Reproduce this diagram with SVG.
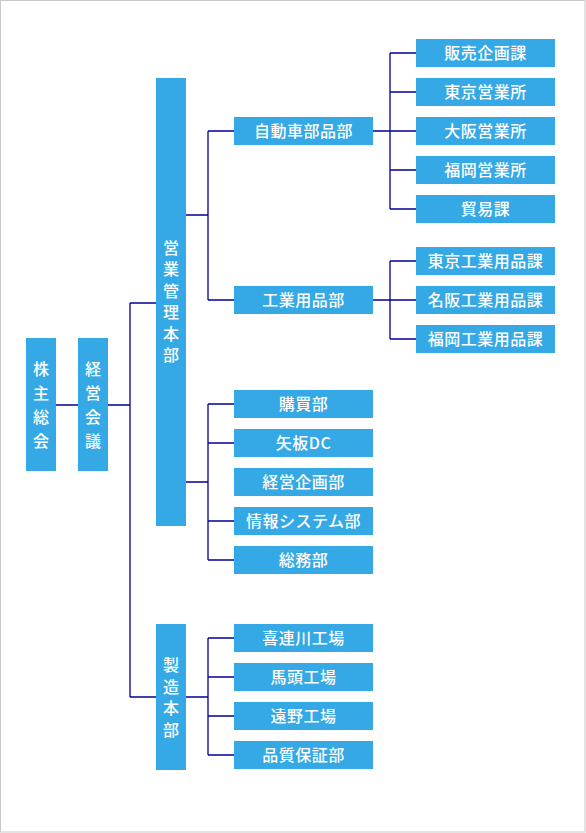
<svg xmlns="http://www.w3.org/2000/svg" width="586" height="833" viewBox="0 0 586 833">
<style>
.b{fill:#34a9e5}
.t{fill:#fff;font-family:"Noto Sans CJK JP","Noto Sans",sans-serif;font-size:16px;text-anchor:middle;letter-spacing:0.5px;font-weight:500}
.v{fill:#fff;font-family:"Noto Sans CJK JP","Noto Sans",sans-serif;font-size:16px;text-anchor:middle;writing-mode:vertical-rl;font-weight:500}
.v6{letter-spacing:5.5px}
.v4{letter-spacing:8px}
.c{stroke:#000099;stroke-width:1.3;fill:none}
</style>
<rect x="0.5" y="0.5" width="584.5" height="831.5" fill="#fff" stroke="#c8c8c8" stroke-width="1"/>
<g id="connectors" class="c">
<path d="M55 405H78M108 405H130M130 303V697M130 303H156M130 697H156"/>
<path d="M186 215H208M208 131V300M208 131H234M208 300H234"/>
<path d="M186 482H208M208 404V560M208 404H234M208 443H234M208 521H234M208 560H234"/>
<path d="M186 697H208M208 638V755M208 638H234M208 677H234M208 716H234M208 755H234"/>
<path d="M373 131H416M390 53V209M390 53H416M390 92H416M390 170H416M390 209H416"/>
<path d="M373 300H416M390 261V339M390 261H416M390 339H416"/>
</g>
<g id="kabunushi"><rect class="b" x="26" y="338" width="30" height="133"/>
<text class="v v4" x="41" y="409">株主総会</text></g>
<g id="keiei"><rect class="b" x="78" y="338" width="30" height="133"/>
<text class="v v4" x="93" y="409">経営会議</text></g>
<g id="eigyo"><rect class="b" x="156" y="78" width="30" height="448"/>
<text class="v v6" x="171" y="304">営業管理本部</text></g>
<g id="seizo"><rect class="b" x="156" y="624" width="30" height="146"/>
<text class="v v6" x="171" y="700">製造本部</text></g>
<g id="jidosha"><rect class="b" x="234" y="117" width="139" height="28"/><text class="t" x="303.5" y="137">自動車部品部</text></g>
<g id="kogyo"><rect class="b" x="234" y="286" width="139" height="28"/><text class="t" x="303.5" y="306">工業用品部</text></g>
<g id="kobai"><rect class="b" x="234" y="390" width="139" height="28"/><text class="t" x="303.5" y="410">購買部</text></g>
<g id="yaita"><rect class="b" x="234" y="429" width="139" height="28"/><text class="t" x="303.5" y="449">矢板DC</text></g>
<g id="keikaku"><rect class="b" x="234" y="468" width="139" height="28"/><text class="t" x="303.5" y="488">経営企画部</text></g>
<g id="joho"><rect class="b" x="234" y="507" width="139" height="28"/><text class="t" x="303.5" y="527">情報システム部</text></g>
<g id="somu"><rect class="b" x="234" y="546" width="139" height="28"/><text class="t" x="303.5" y="566">総務部</text></g>
<g id="kitsuregawa"><rect class="b" x="234" y="624" width="139" height="28"/><text class="t" x="303.5" y="644">喜連川工場</text></g>
<g id="bato"><rect class="b" x="234" y="663" width="139" height="28"/><text class="t" x="303.5" y="683">馬頭工場</text></g>
<g id="tono"><rect class="b" x="234" y="702" width="139" height="28"/><text class="t" x="303.5" y="722">遠野工場</text></g>
<g id="hinshitsu"><rect class="b" x="234" y="741" width="139" height="28"/><text class="t" x="303.5" y="761">品質保証部</text></g>
<g id="hanbai"><rect class="b" x="416" y="39" width="139" height="28"/><text class="t" x="485.5" y="59">販売企画課</text></g>
<g id="tokyo"><rect class="b" x="416" y="78" width="139" height="28"/><text class="t" x="485.5" y="98">東京営業所</text></g>
<g id="osaka"><rect class="b" x="416" y="117" width="139" height="28"/><text class="t" x="485.5" y="137">大阪営業所</text></g>
<g id="fukuoka"><rect class="b" x="416" y="156" width="139" height="28"/><text class="t" x="485.5" y="176">福岡営業所</text></g>
<g id="boeki"><rect class="b" x="416" y="195" width="139" height="28"/><text class="t" x="485.5" y="215">貿易課</text></g>
<g id="tokyokogyo"><rect class="b" x="416" y="247" width="139" height="28"/><text class="t" x="485.5" y="267">東京工業用品課</text></g>
<g id="meihan"><rect class="b" x="416" y="286" width="139" height="28"/><text class="t" x="485.5" y="306">名阪工業用品課</text></g>
<g id="fukuokakogyo"><rect class="b" x="416" y="325" width="139" height="28"/><text class="t" x="485.5" y="345">福岡工業用品課</text></g>
</svg>
